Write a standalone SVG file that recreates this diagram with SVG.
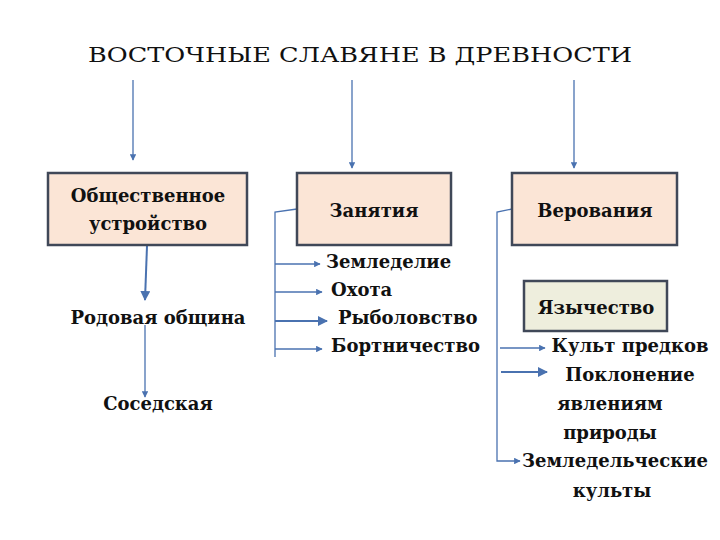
<svg xmlns="http://www.w3.org/2000/svg" width="720" height="540" viewBox="0 0 720 540">
<defs>
<marker id="a" viewBox="0 0 10 10" refX="9" refY="5" markerWidth="5" markerHeight="5" orient="auto"><path d="M0,0L10,5L0,10z" fill="#4a72b0"/></marker>
<style>
text{font-family:'DejaVu Serif','Liberation Serif',serif;font-weight:bold;font-size:18px;fill:#111}
.b{fill:#fbe5d6;stroke:#404858;stroke-width:2.5}
.g{fill:#eeeedd;stroke:#404858;stroke-width:2.5}
.c line,.c path{stroke:#4a72b0;stroke-width:1.3;fill:none}
.m{text-anchor:middle}
</style>
</defs>
<rect width="720" height="540" fill="#fff"/>
<text x="360" y="62" class="m" style="font-weight:normal;font-size:21px" textLength="544" lengthAdjust="spacingAndGlyphs">ВОСТОЧНЫЕ СЛАВЯНЕ В ДРЕВНОСТИ</text>
<g class="c">
<line x1="133" y1="80" x2="133" y2="160" marker-end="url(#a)"/>
<line x1="352" y1="80" x2="352" y2="168" marker-end="url(#a)"/>
<line x1="574" y1="80" x2="574" y2="168" marker-end="url(#a)"/>
<line x1="147" y1="246" x2="145" y2="300" marker-end="url(#a)" style="stroke-width:2"/>
<line x1="145" y1="325" x2="145" y2="397" marker-end="url(#a)"/>
<path d="M297,209L275,212L275,357"/>
<line x1="275" y1="264" x2="320" y2="264" marker-end="url(#a)"/>
<line x1="275" y1="292" x2="322" y2="292" marker-end="url(#a)"/>
<line x1="275" y1="321" x2="327" y2="321" marker-end="url(#a)" style="stroke-width:2"/>
<line x1="275" y1="349" x2="322" y2="349" marker-end="url(#a)"/>
<path d="M512,209L497,212L497,461L520,461" marker-end="url(#a)"/>
<line x1="500" y1="348" x2="545" y2="348" marker-end="url(#a)"/>
<line x1="501" y1="372" x2="547" y2="372" marker-end="url(#a)" style="stroke-width:2"/>
</g>
<g id="n1"><rect class="b" x="48" y="173" width="199" height="72"/><text x="148" y="202" class="m">Общественное</text><text x="148" y="230" class="m">устройство</text></g>
<g id="n2"><rect class="b" x="297" y="173" width="154" height="72"/><text x="374" y="217" class="m">Занятия</text></g>
<g id="n3"><rect class="b" x="512" y="173" width="165" height="72"/><text x="595" y="217" class="m">Верования</text></g>
<g id="n4"><rect class="g" x="524" y="281" width="143" height="50"/><text x="596" y="314" class="m">Язычество</text></g>
<g id="t1"><text x="158" y="324" class="m">Родовая община</text><text x="158" y="410" class="m">Соседская</text></g>
<g id="t2"><text x="326" y="268">Земледелие</text><text x="331" y="296">Охота</text><text x="338" y="324">Рыболовство</text><text x="331" y="352">Бортничество</text></g>
<g id="t3"><text x="630" y="352" class="m">Культ предков</text><text x="630" y="381" class="m">Поклонение</text><text x="610" y="410" class="m">явлениям</text><text x="610" y="439" class="m">природы</text><text x="615" y="467" class="m">Земледельческие</text><text x="612" y="497" class="m">культы</text></g>
</svg>
